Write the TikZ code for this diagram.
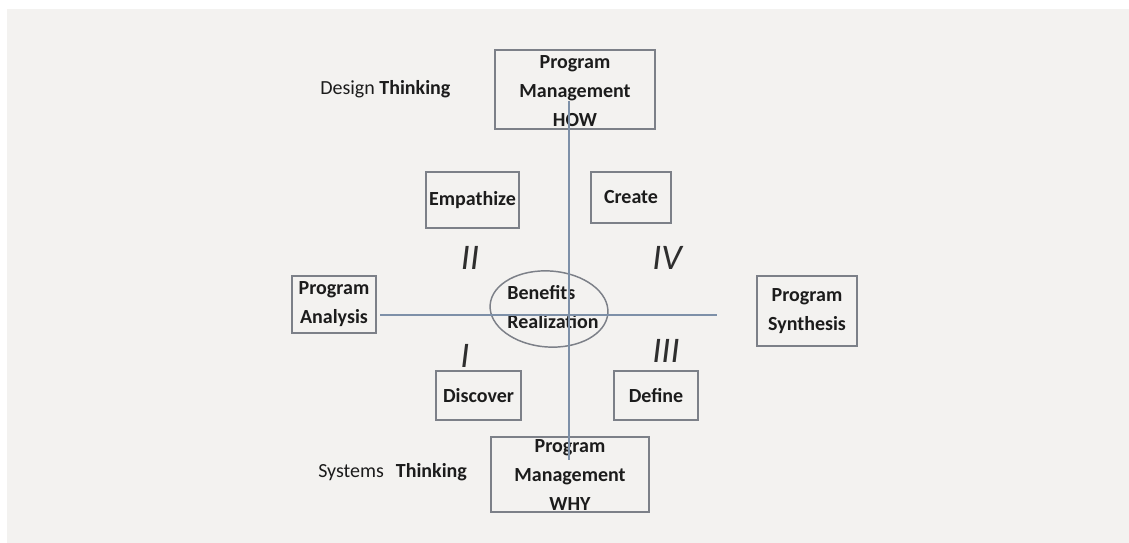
\documentclass[tikz,border=0pt]{standalone}
\usepackage{fontspec}
\setmainfont{Carlito}
\usetikzlibrary{shapes.geometric}
\definecolor{bggrey}{HTML}{F3F2F0}
\definecolor{boxline}{HTML}{7C8088}
\definecolor{axisline}{HTML}{7D90A8}
\definecolor{txt}{HTML}{1C1C1C}
\definecolor{numcol}{HTML}{2E2E2E}
\tikzset{
  framebox/.style={draw=boxline, line width=1.3pt, fill=none, inner sep=0pt},
  boxtext/.style={font=\fontsize{15}{21.75}\selectfont\bfseries, text=txt, align=center, inner sep=0pt},
  plaintext/.style={font=\fontsize{15}{21.75}\selectfont, text=txt, inner sep=0pt},
  roman/.style={font=\fontsize{27}{30}\selectfont\itshape, text=numcol, inner sep=0pt},
  axis/.style={draw=axisline, line width=1.2pt},
}
\begin{document}
\begin{tikzpicture}[x=0.75pt,y=-0.75pt]
\useasboundingbox (0,0) rectangle (1129,543);
\fill[white] (0,0) rectangle (1129,543);
\fill[bggrey] (7,9) rectangle (1129,543);

% boxes
\node[framebox, minimum width=160*0.75pt, minimum height=79*0.75pt] (how) at (575,89.5) {};
\node[framebox, minimum width=158*0.75pt, minimum height=75*0.75pt] (why) at (570,474.5) {};
\node[framebox, minimum width=93*0.75pt, minimum height=56*0.75pt] (emp) at (472.5,200) {};
\node[framebox, minimum width=80*0.75pt, minimum height=51*0.75pt] (cre) at (631,197.5) {};
\node[framebox, minimum width=84*0.75pt, minimum height=57*0.75pt] (pa) at (334,304.5) {};
\node[framebox, minimum width=100*0.75pt, minimum height=70*0.75pt] (ps) at (807,311) {};
\node[framebox, minimum width=85*0.75pt, minimum height=49*0.75pt] (dis) at (478.5,395.5) {};
\node[framebox, minimum width=84*0.75pt, minimum height=49*0.75pt] (def) at (656,395.5) {};
\node[draw=boxline, line width=1.1pt, ellipse, minimum width=118*0.75pt, minimum height=76*0.75pt, inner sep=0pt, rotate=-4] (br) at (549,309) {};

% box texts
\node[boxtext] (howtxt) at (575,91) {Program\\Management\\HOW};
\node[boxtext] (whytxt) at (570,475) {Program\\Management\\WHY};
\node[boxtext] (emptxt) at (emp.center) {Empathize};
\node[boxtext] (cretxt) at (cre.center) {Create};
\node[boxtext] (patxt) at (pa.center) {Program\\Analysis};
\node[boxtext] (pstxt) at (ps.center) {Program\\Synthesis};
\node[boxtext] (distxt) at (dis.center) {Discover};
\node[boxtext] (deftxt) at (def.center) {Define};
\node[boxtext, align=left] (brtxt) at (553,307) {Benefits\\Realization};

% side labels
\node[plaintext, anchor=west] (design) at (320,89) {Design \textbf{Thinking}};
\node[plaintext, anchor=west] (systems) at (318,472) {Systems\hspace{9pt}\textbf{Thinking}};

% roman numerals
\node[roman] (n2) at (470,258) {II};
\node[roman] (n4) at (667,258) {IV};
\node[roman] (n1) at (465,356) {I};
\node[roman] (n3) at (666,351) {III};

% axes
\coordinate (vtop) at (569,101);
\coordinate (vbot) at (569,460);
\coordinate (hleft) at (380,315);
\coordinate (hright) at (717,315);
\draw[axis] (vtop) -- (vbot);
\draw[axis] (hleft) -- (hright);
\end{tikzpicture}
\end{document}
